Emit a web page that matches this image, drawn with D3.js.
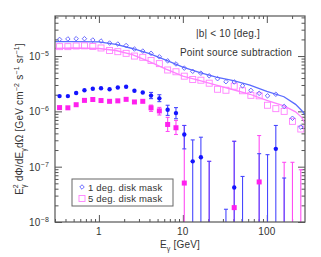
<!DOCTYPE html>
<html>
<head>
<meta charset="utf-8">
<script src="https://cdn.jsdelivr.net/npm/d3@7"></script>
<style>
  body { margin: 0; background: #fff; }
  text { font-family: "Liberation Sans", Arial, sans-serif; fill: #333; letter-spacing: 0.2px; }
</style>
</head>
<body>
<svg id="chart" width="321" height="257"></svg>
<script>
// energy bin centres [GeV]
var energy = [0.340, 0.427, 0.536, 0.673, 0.846, 1.06, 1.34, 1.68, 2.11, 2.65,
              3.33, 4.18, 5.25, 6.59, 8.28, 10.4, 13.1, 16.4, 20.6, 25.9,
              32.6, 40.9, 51.4, 64.6, 81.1, 102, 128, 161, 202, 254];

// total emission, open markers
var mask1Total = [2.0e-5, 2.04e-5, 2.06e-5, 2.06e-5, 1.95e-5, 1.87e-5, 1.72e-5, 1.65e-5, 1.55e-5, 1.34e-5,
                  1.23e-5, 1.12e-5, 9.7e-6, 8.2e-6, 7.2e-6, 6.05e-6, 5.3e-6, 4.9e-6, 4.4e-6, 3.9e-6,
                  3.44e-6, 3.4e-6, 2.9e-6, 2.4e-6, 2.12e-6, 1.91e-6, 2.04e-6, 1.23e-6, 7.5e-7, 5.2e-7];
var mask5Total = [1.48e-5, 1.48e-5, 1.52e-5, 1.53e-5, 1.49e-5, 1.40e-5, 1.26e-5, 1.20e-5, 1.12e-5, 1.0e-5,
                  9.5e-6, 8.3e-6, 7.3e-6, 5.6e-6, 5.2e-6, 4.33e-6, 3.77e-6, 3.66e-6, 3.23e-6, 2.51e-6,
                  2.41e-6, 2.85e-6, 2.36e-6, 1.95e-6, 1.91e-6, 1.29e-6, 1.12e-6, 1.0e-6, 6.6e-7, 4.8e-7];

// model curves
var modelEnergy = [0.3, 0.5, 1, 1.6, 2.5, 4, 6.3, 10, 16, 25, 40, 63, 100, 160, 220, 260, 290];
var mask1Model = [1.82e-5, 1.82e-5, 1.80e-5, 1.62e-5, 1.37e-5, 1.11e-5, 8.45e-6, 6.3e-6, 5.0e-6, 4.15e-6,
                  3.59e-6, 2.97e-6, 2.31e-6, 1.84e-6, 1.34e-6, 1.04e-6, 8.45e-7];
var mask5Model = [1.38e-5, 1.40e-5, 1.37e-5, 1.26e-5, 1.065e-5, 7.94e-6, 5.8e-6, 4.33e-6, 3.59e-6, 2.97e-6,
                  2.46e-6, 2.04e-6, 1.58e-6, 1.26e-6, 9.8e-7, 7.8e-7, 5.8e-7];

// after point source subtraction, filled markers (null = not shown)
var mask1Resid = [1.89e-6, 1.89e-6, 2.15e-6, 2.41e-6, 2.57e-6, 2.62e-6, 2.51e-6, 2.70e-6, 2.79e-6, 2.36e-6,
                  2.19e-6, 1.93e-6, 1.72e-6, 1.07e-6, 9.3e-7, 3.82e-7, 1.25e-7, 1.48e-7, null, null,
                  null, 4.2e-8, null, null, null, null, 2.1e-7, null, null, null];
var mask1Hi = [null, null, null, null, null, null, null, null, null, null,
               null, 2.2e-6, 2.0e-6, 1.29e-6, 1.17e-6, 5.56e-7, 3.05e-7, 3.41e-7, 1.25e-7, null,
               1.7e-8, 2.88e-7, 6.66e-8, null, 1.72e-7, 1.65e-7, 5.56e-7, 6.24e-8, null, null];
var mask1Lo = [null, null, null, null, null, null, null, null, null, null,
               null, 1.7e-6, 1.5e-6, 8.45e-7, 7.36e-7, 2.1e-7, 1e-9, 1e-9, 1e-9, null,
               1e-9, 1e-9, 1e-9, null, 1e-9, 1e-9, 1e-9, 1e-9, null, null];

var mask5Resid = [1.17e-6, 1.16e-6, 1.32e-6, 1.58e-6, 1.64e-6, 1.57e-6, 1.52e-6, 1.55e-6, 1.65e-6, 1.48e-6,
                  1.52e-6, 1.16e-6, 1.02e-6, 5.8e-7, 5.06e-7, 5.06e-8, null, null, null, null,
                  null, 1.82e-8, null, null, 5.3e-8, null, null, null, null, null];
var mask5Hi = [null, null, null, null, null, null, null, null, null, null,
               null, 1.3e-6, 1.18e-6, 7.8e-7, 6.86e-7, 5.56e-7, null, null, 1.25e-7, null,
               null, 2.88e-7, null, null, 3.66e-7, null, null, 1.2e-7, 1.2e-7, 8.8e-8];
var mask5Lo = [null, null, null, null, null, null, null, null, null, null,
               null, 1.0e-6, 8.6e-7, 4.33e-7, 3.82e-7, 1e-9, null, null, 1e-9, null,
               null, 1e-9, null, null, 1e-9, null, null, 1e-9, 1e-9, 1e-9];

var xMajor = [1, 10, 100];
var yMajor = [1e-8, 1e-7, 1e-6, 1e-5];
var legendLabels = ["1 deg. disk mask", "5 deg. disk mask"];

var pink = "#ff20ee", lightPink = "#ff80ff";

var margin = {top: 16, right: 16, bottom: 35, left: 55};
var width = 321 - margin.left - margin.right;
var height = 257 - margin.top - margin.bottom;

var svg = d3.select("#chart");
var g = svg.append("g").attr("transform", "translate(" + margin.left + "," + margin.top + ")");

var x = d3.scaleLog().domain([0.3, 285]).range([0, width]);
var y = d3.scaleLog().domain([1e-8, 5.3e-5]).range([height, 0]);

svg.append("defs").append("clipPath").attr("id", "plotclip")
  .append("rect").attr("width", width).attr("height", height);

// minor ticks
var xMinor = [];
[0.1, 1, 10, 100].forEach(function(d) {
  for (var i = 2; i <= 9; i++) { var v = d * i; if (v >= 0.3 && v <= 285) xMinor.push(v); }
});
var yMinor = [];
[1e-8, 1e-7, 1e-6, 1e-5].forEach(function(d) {
  for (var i = 2; i <= 9; i++) { var v = d * i; if (v <= 5.3e-5) yMinor.push(v); }
});

function styleAxis(sel) {
  sel.select(".domain").remove();
  sel.selectAll("line").attr("stroke", "#555").attr("stroke-width", 1);
  sel.selectAll("text").remove();
}

g.append("g").attr("transform", "translate(0," + height + ")")
  .call(d3.axisBottom(x).tickValues(xMajor).tickSize(-7)).call(styleAxis);
g.append("g").attr("transform", "translate(0," + height + ")")
  .call(d3.axisBottom(x).tickValues(xMinor).tickSize(-3)).call(styleAxis);
g.append("g").call(d3.axisTop(x).tickValues(xMajor).tickSize(-7)).call(styleAxis);
g.append("g").call(d3.axisTop(x).tickValues(xMinor).tickSize(-3)).call(styleAxis);

g.append("g").call(d3.axisLeft(y).tickValues(yMajor).tickSize(-7)).call(styleAxis);
g.append("g").call(d3.axisLeft(y).tickValues(yMinor).tickSize(-3.5)).call(styleAxis);
g.append("g").attr("transform", "translate(" + width + ",0)")
  .call(d3.axisRight(y).tickValues(yMajor).tickSize(-7)).call(styleAxis);
g.append("g").attr("transform", "translate(" + width + ",0)")
  .call(d3.axisRight(y).tickValues(yMinor).tickSize(-3.5)).call(styleAxis);

// tick labels
g.selectAll(".xlab").data(xMajor).join("text")
  .attr("x", function(d) { return x(d); }).attr("y", height + 13)
  .attr("text-anchor", "middle").attr("font-size", 10)
  .text(function(d) { return d; });

var yl = g.selectAll(".ylab").data(yMajor).join("text")
  .attr("x", -6).attr("y", function(d) { return y(d) + 4; })
  .attr("text-anchor", "end").attr("font-size", 10);
yl.append("tspan").text("10");
yl.append("tspan").attr("dy", -4).attr("font-size", 7)
  .text(function(d) { return "\u2212" + Math.round(-Math.log10(d)); });

// x title
var xt = svg.append("text").attr("x", margin.left + width / 2).attr("y", 248)
  .attr("text-anchor", "middle").attr("font-size", 10);
xt.append("tspan").text("E");
xt.append("tspan").attr("dy", 3).attr("font-size", 7).text("\u03b3");
xt.append("tspan").attr("dy", -3).text("  [GeV]");

// y title
var yt = svg.append("text").attr("transform", "translate(23," + (margin.top + height / 2) + ") rotate(-90)")
  .attr("text-anchor", "middle").attr("font-size", 10);
yt.append("tspan").text("E");
yt.append("tspan").attr("dy", 3).attr("font-size", 7).text("\u03b3");
yt.append("tspan").attr("dy", -8).attr("dx", -4).attr("font-size", 7).text("2");
yt.append("tspan").attr("dy", 5).text(" d\u03a6/dE");
yt.append("tspan").attr("dy", 3).attr("font-size", 7).text("\u03b3");
yt.append("tspan").attr("dy", -3).text("d\u03a9 [GeV cm");
yt.append("tspan").attr("dy", -4).attr("font-size", 7).text("\u22122");
yt.append("tspan").attr("dy", 4).text(" s");
yt.append("tspan").attr("dy", -4).attr("font-size", 7).text("\u22121");
yt.append("tspan").attr("dy", 4).text(" sr");
yt.append("tspan").attr("dy", -4).attr("font-size", 7).text("\u22121");
yt.append("tspan").attr("dy", 4).text("]");

var plot = g.append("g").attr("clip-path", "url(#plotclip)");

// model lines
var line = d3.line().x(function(d) { return x(d[0]); }).y(function(d) { return y(d[1]); });
plot.append("path").datum(d3.zip(modelEnergy, mask5Model)).attr("d", line)
  .attr("fill", "none").attr("stroke", lightPink).attr("stroke-width", 1.3);
plot.append("path").datum(d3.zip(modelEnergy, mask1Model)).attr("d", line)
  .attr("fill", "none").attr("stroke", "#5a6cff").attr("stroke-width", 1.3);

// open markers
plot.selectAll(".sq").data(d3.zip(energy, mask5Total)).join("rect")
  .attr("x", function(d) { return x(d[0]) - 3; }).attr("y", function(d) { return y(d[1]) - 3; })
  .attr("width", 6).attr("height", 6).attr("fill", "none").attr("stroke", lightPink).attr("stroke-width", 0.9);
var diamond = d3.symbol().type(d3.symbolDiamond2).size(13);
plot.selectAll(".dm").data(d3.zip(energy, mask1Total)).join("path")
  .attr("d", diamond)
  .attr("transform", function(d) { return "translate(" + x(d[0]) + "," + y(d[1]) + ")"; })
  .attr("fill", "none").attr("stroke", "#5a5aff").attr("stroke-width", 0.9);

// error bars
function bars(hi, lo, color) {
  var data = energy.map(function(e, i) { return {e: e, hi: hi[i], lo: lo[i]}; })
    .filter(function(d) { return d.hi != null; });
  var eb = plot.append("g").attr("stroke", color).attr("stroke-width", 1.1);
  eb.selectAll(".v").data(data).join("line")
    .attr("x1", function(d) { return x(d.e); }).attr("x2", function(d) { return x(d.e); })
    .attr("y1", function(d) { return y(d.hi); }).attr("y2", function(d) { return y(d.lo); });
  eb.selectAll(".c").data(data).join("line")
    .attr("x1", function(d) { return x(d.e) - 2; }).attr("x2", function(d) { return x(d.e) + 2; })
    .attr("y1", function(d) { return y(d.hi); }).attr("y2", function(d) { return y(d.hi); });
  eb.selectAll(".c2").data(data.filter(function(d) { return d.lo > 1e-8; })).join("line")
    .attr("x1", function(d) { return x(d.e) - 2; }).attr("x2", function(d) { return x(d.e) + 2; })
    .attr("y1", function(d) { return y(d.lo); }).attr("y2", function(d) { return y(d.lo); });
}
bars(mask5Hi, mask5Lo, "#ff4cf4");
bars(mask1Hi, mask1Lo, "#4848ff");

// filled markers
plot.selectAll(".fs").data(d3.zip(energy, mask5Resid).filter(function(d) { return d[1] != null; })).join("rect")
  .attr("x", function(d) { return x(d[0]) - 2.5; }).attr("y", function(d) { return y(d[1]) - 2.5; })
  .attr("width", 5).attr("height", 5).attr("fill", pink);
plot.selectAll(".fc").data(d3.zip(energy, mask1Resid).filter(function(d) { return d[1] != null; })).join("circle")
  .attr("cx", function(d) { return x(d[0]); }).attr("cy", function(d) { return y(d[1]); })
  .attr("r", 2.2).attr("fill", "#1414ff");

// frame
g.append("rect").attr("width", width).attr("height", height)
  .attr("fill", "none").attr("stroke", "#555").attr("stroke-width", 1.2);

// annotations
g.append("text").attr("x", 173).attr("y", 21).attr("text-anchor", "middle").attr("font-size", 10)
  .text("|b|  <  10  [deg.]");
g.append("text").attr("x", 181).attr("y", 40).attr("text-anchor", "middle").attr("font-size", 10)
  .text("Point source subtraction");

// legend
var lg = svg.append("g").attr("transform", "translate(72,179)");
lg.append("rect").attr("width", 101).attr("height", 27).attr("fill", "#fff")
  .attr("stroke", "#666").attr("stroke-width", 1);
lg.append("path").attr("d", diamond).attr("transform", "translate(10,8)")
  .attr("fill", "none").attr("stroke", "#5a5aff").attr("stroke-width", 0.9);
lg.append("rect").attr("x", 7).attr("y", 16.5).attr("width", 6).attr("height", 6)
  .attr("fill", "none").attr("stroke", lightPink).attr("stroke-width", 0.9);
lg.selectAll(".lt").data(legendLabels).join("text")
  .attr("x", 16).attr("y", function(d, i) { return 11.5 + i * 11; })
  .attr("font-size", 9.5).text(function(d) { return d; });
</script>
</body>
</html>
